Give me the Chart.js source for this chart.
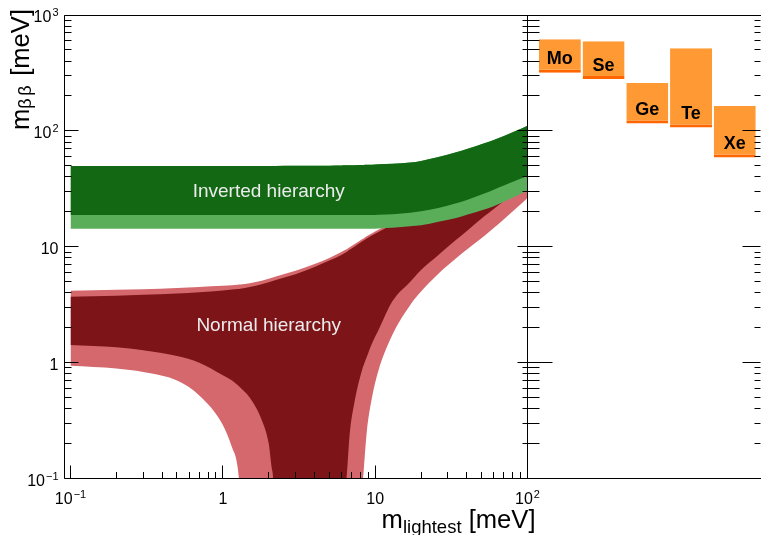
<!DOCTYPE html>
<html>
<head>
<meta charset="utf-8">
<script src="https://cdn.jsdelivr.net/npm/chart.js@4.4.1/dist/chart.umd.min.js"></script>
<style>
  html, body { margin: 0; padding: 0; background: #fff; }
  #wrap { position: relative; width: 761px; height: 535px; }
  canvas { position: absolute; left: 0; top: 0; }
</style>
</head>
<body>
<div id="wrap">
  <canvas id="bands" width="761" height="535"></canvas>
  <canvas id="limits" width="761" height="535"></canvas>
</div>
<script>
// lightest neutrino mass (meV), shared x for every band edge
const mLightest = [0.1, 0.2, 0.3, 0.5, 0.7, 1.0, 1.15, 1.25, 1.3, 1.5, 1.8, 2.0, 2.1, 2.15, 2.2,
  3, 4, 5, 6, 6.4, 6.5, 6.8, 7.3, 8.3, 8.4, 8.8, 9.5, 10.5, 13, 17, 20, 26, 34, 40, 52, 60, 70, 85, 100];

// normal hierarchy edges (meV); 0.001 = band reaches zero, below the plot
const nhLightHi = [4.18, 4.25, 4.3, 4.4, 4.5, 4.6, 4.65, 4.7, 4.72, 4.85, 5.1, 5.3, 5.4, 5.45, 5.5,
  6.2, 7.1, 8.0, 9.0, 9.4, 9.5, 9.9, 10.5, 11.7, 11.8, 12.3, 13.0, 14.0, 16.3, 20, 23, 29, 37, 43, 55, 63, 73, 88, 103];
const nhDarkHi = [3.7, 3.78, 3.85, 3.95, 4.05, 4.2, 4.27, 4.32, 4.35, 4.5, 4.75, 4.95, 5.05, 5.1, 5.15,
  5.8, 6.7, 7.6, 8.5, 8.9, 9.0, 9.4, 10.0, 11.2, 11.3, 11.8, 12.5, 13.4, 15.6, 19.2, 22, 28, 36, 42, 54, 62, 72, 86, 101];
const nhDarkLo = [1.42, 1.36, 1.28, 1.14, 1.0, 0.78, 0.70, 0.64, 0.61, 0.5, 0.32, 0.2, 0.12, 0.075, 0.001,
  0.001, 0.001, 0.001, 0.001, 0.085, 0.105, 0.24, 0.45, 0.91, 0.95, 1.12, 1.45, 1.9, 3.4, 5.0, 6.3, 8.5, 11.5, 13.7, 18.3, 21.2, 24.8, 30.5, 36];
const nhLightLo = [0.94, 0.89, 0.83, 0.70, 0.52, 0.29, 0.185, 0.125, 0.07, 0.001, 0.001, 0.001, 0.001, 0.001, 0.001,
  0.001, 0.001, 0.001, 0.001, 0.001, 0.001, 0.001, 0.001, 0.093, 0.115, 0.25, 0.49, 0.85, 1.75, 3.15, 4.1, 5.85, 7.95, 9.45, 12.4, 14.5, 17.3, 21.7, 26.4];

// inverted hierarchy edges (meV)
const ihTop = [49.8, 49.8, 49.8, 49.8, 49.8, 49.8, 49.8, 49.8, 49.8, 49.8, 49.8, 49.8, 49.8, 49.8, 49.8,
  49.9, 50, 50.1, 50.3, 50.4, 50.4, 50.5, 50.6, 50.8, 50.8, 50.9, 51.1, 51.4, 52, 53.3, 55, 59.5, 65.5, 69.9, 78.3, 83.6, 90.3, 100.5, 110.8];
const ihDarkLo = [18.8, 18.8, 18.8, 18.8, 18.8, 18.8, 18.8, 18.8, 18.8, 18.8, 18.8, 18.8, 18.8, 18.8, 18.8,
  18.8, 18.8, 18.8, 18.8, 18.8, 18.8, 18.8, 18.8, 18.8, 18.8, 18.8, 18.8, 18.9, 19.1, 19.7, 20.2, 21.6, 23.7, 25.3, 28.8, 31.1, 33.8, 37.5, 40.8];
const ihLightLo = [14.3, 14.3, 14.3, 14.3, 14.3, 14.3, 14.3, 14.3, 14.3, 14.3, 14.3, 14.3, 14.3, 14.3, 14.3,
  14.3, 14.3, 14.3, 14.3, 14.3, 14.3, 14.3, 14.3, 14.3, 14.3, 14.3, 14.3, 14.4, 14.6, 15.0, 15.3, 16.4, 17.7, 18.9, 21.0, 22.4, 24.5, 27.5, 30.8];

// experimental limits per isotope (meV)
const isotopes = ["Mo", "Se", "Ge", "Te", "Xe"];
const limitLow = [318, 280, 116, 107, 59];
const limitHigh = [617, 593, 259, 516, 164];

const xTickValues = [0.1, 1, 10, 100];
const xTickLabels = ["10^-1", "1", "10", "10^2"];
const yTickValues = [0.1, 1, 10, 100, 1000];
const yTickLabels = ["10^-1", "1", "10", "10^2", "10^3"];

const bandNames = ["Inverted hierarchy", "Normal hierarchy"];
const bandNameX = [2, 2];
const bandNameY = [27, 1.87];

const FONT = '"Liberation Sans", Arial, Helvetica, sans-serif';
const darkRed = "#7c1418", lightRed = "#d4686c";
const darkGreen = "#136813", lightGreen = "#5aae5a";

function points(vals) {
  return mLightest.map((m, i) => ({ x: m, y: vals[i] }));
}
function band(vals, color, order) {
  return { data: points(vals), fill: "+1", backgroundColor: color, borderColor: "transparent",
    borderWidth: 0, pointRadius: 0, pointHoverRadius: 0, clip: 0, order: order,
    cubicInterpolationMode: "monotone" };
}
function edge(vals, order) {
  return { data: points(vals), fill: false, borderColor: "transparent",
    borderWidth: 0, pointRadius: 0, pointHoverRadius: 0, clip: 0, order: order,
    cubicInterpolationMode: "monotone" };
}

function minorValues(lo, hi) {
  const out = [];
  for (let d = lo; d < hi * 0.999; d *= 10) {
    for (let k = 2; k <= 9; k++) out.push(k * d);
  }
  return out;
}

function parseTick(s) {
  const p = s.split("^");
  return { base: p[0], exp: p.length > 1 ? p[1].replace("-", "\u2212") : "" };
}
function tickWidth(ctx, t) {
  ctx.font = "16px " + FONT;
  let w = ctx.measureText(t.base).width;
  if (t.exp) {
    ctx.font = "11px " + FONT;
    w += ctx.measureText(t.exp).width + 1;
  }
  return w;
}
function drawTick(ctx, t, x, y) {
  ctx.textAlign = "left";
  ctx.textBaseline = "alphabetic";
  ctx.font = "16px " + FONT;
  ctx.fillText(t.base, x, y);
  if (t.exp) {
    const w = ctx.measureText(t.base).width;
    ctx.font = "11px " + FONT;
    ctx.fillText(t.exp, x + w + 1, y - 6);
  }
}

// title pieces: [text, font size, baseline shift, extra gap after]
function drawPieces(ctx, pieces) {
  let x = 0;
  pieces.forEach(([txt, size, shift, gap]) => {
    ctx.font = size + "px " + FONT;
    ctx.fillText(txt, x, shift);
    x += ctx.measureText(txt).width + (gap || 0);
  });
}
function piecesWidth(ctx, pieces) {
  let w = 0;
  pieces.forEach(([txt, size, shift, gap]) => {
    ctx.font = size + "px " + FONT;
    w += ctx.measureText(txt).width + (gap || 0);
  });
  return w;
}

const leftFrame = {
  id: "leftFrame",
  afterDraw(chart) {
    const { ctx, chartArea: a, scales: { x, y } } = chart;
    const L = Math.floor(a.left) + 0.5, R = Math.floor(a.right) + 0.5;
    const T = Math.floor(a.top) + 0.5, B = Math.floor(a.bottom) + 0.5;
    ctx.save();
    ctx.strokeStyle = "#000";
    ctx.lineWidth = 1;
    ctx.beginPath();
    ctx.moveTo(L, B); ctx.lineTo(L, T); ctx.lineTo(R, T);
    ctx.moveTo(L, B); ctx.lineTo(R, B);
    yTickValues.forEach(v => {
      const py = Math.floor(y.getPixelForValue(v)) + 0.5;
      ctx.moveTo(L, py); ctx.lineTo(L + 14, py);
      ctx.moveTo(R, py); ctx.lineTo(R - 10, py);
    });
    minorValues(0.1, 1000).forEach(v => {
      const py = Math.floor(y.getPixelForValue(v)) + 0.5;
      ctx.moveTo(L, py); ctx.lineTo(L + 7, py);
      ctx.moveTo(R, py); ctx.lineTo(R - 5, py);
    });
    xTickValues.forEach(v => {
      const px = Math.floor(x.getPixelForValue(v)) + 0.5;
      ctx.moveTo(px, B); ctx.lineTo(px, B - 13);
    });
    minorValues(0.1, 100).forEach(v => {
      const px = Math.floor(x.getPixelForValue(v)) + 0.5;
      ctx.moveTo(px, B); ctx.lineTo(px, B - 6.5);
    });
    ctx.stroke();

    // tick labels
    ctx.fillStyle = "#000";
    xTickValues.forEach((v, i) => {
      const t = parseTick(xTickLabels[i]);
      const w = tickWidth(ctx, t);
      drawTick(ctx, t, x.getPixelForValue(v) - w / 2, a.bottom + 25);
    });
    yTickValues.forEach((v, i) => {
      const t = parseTick(yTickLabels[i]);
      const w = tickWidth(ctx, t);
      drawTick(ctx, t, a.left - 5.5 - w, y.getPixelForValue(v) + 7);
    });

    // axis titles
    ctx.textAlign = "left";
    ctx.textBaseline = "alphabetic";
    const xTitle = [["m", 25.6, 0], ["lightest", 18.5, 5], [" [meV]", 25.6, 0]];
    ctx.save();
    ctx.translate(535.5 - piecesWidth(ctx, xTitle), 527.5);
    drawPieces(ctx, xTitle);
    ctx.restore();
    const yTitle = [["m", 25.6, 0], ["\u03b2", 18, 2, 2.5], ["\u03b2", 18, 2, 2.5], [" [meV]", 25.6, 0]];
    ctx.save();
    ctx.translate(28.5, 9 + piecesWidth(ctx, yTitle));
    ctx.rotate(-Math.PI / 2);
    drawPieces(ctx, yTitle);
    ctx.restore();

    // band names
    ctx.fillStyle = "#ececec";
    ctx.font = "19px " + FONT;
    ctx.textAlign = "center";
    bandNames.forEach((name, i) => {
      ctx.fillText(name, x.getPixelForValue(bandNameX[i]), y.getPixelForValue(bandNameY[i]));
    });
    ctx.restore();
  }
};

new Chart(document.getElementById("bands"), {
  type: "line",
  data: {
    datasets: [
      band(nhLightHi, lightRed, 40), edge(nhLightLo, 41),
      band(nhDarkHi, darkRed, 30), edge(nhDarkLo, 31),
      band(ihTop, lightGreen, 20), edge(ihLightLo, 21),
      band(ihTop, darkGreen, 10), edge(ihDarkLo, 11),
    ],
  },
  options: {
    responsive: false,
    animation: false,
    events: [],
    layout: { padding: { left: 64, right: 233.5, top: 15, bottom: 56.5 } },
    plugins: { legend: { display: false }, tooltip: { enabled: false } },
    scales: {
      x: { type: "logarithmic", min: 0.0906, max: 100, display: false },
      y: { type: "logarithmic", min: 0.1, max: 1000, display: false },
    },
  },
  plugins: [leftFrame],
});

const rightFrame = {
  id: "rightFrame",
  afterDraw(chart) {
    const { ctx, chartArea: a, scales: { x, y } } = chart;
    const L = Math.floor(a.left) + 0.5, R = a.right - 0.5;
    const T = Math.floor(a.top) + 0.5, B = Math.floor(a.bottom) + 0.5;
    ctx.save();
    ctx.strokeStyle = "#000";
    ctx.lineWidth = 1;
    ctx.beginPath();
    ctx.moveTo(L, B); ctx.lineTo(L, T); ctx.lineTo(a.right, T);
    ctx.moveTo(L, B); ctx.lineTo(a.right, B);
    yTickValues.forEach(v => {
      const py = Math.floor(y.getPixelForValue(v)) + 0.5;
      ctx.moveTo(L, py); ctx.lineTo(L + 25, py);
      ctx.moveTo(R, py); ctx.lineTo(R - 18, py);
    });
    minorValues(0.1, 1000).forEach(v => {
      const py = Math.floor(y.getPixelForValue(v)) + 0.5;
      ctx.moveTo(L, py); ctx.lineTo(L + 12, py);
      ctx.moveTo(R, py); ctx.lineTo(R - 6, py);
    });
    ctx.stroke();

    // isotope names near the bottom of each bar
    ctx.fillStyle = "#000";
    ctx.font = "bold 18px " + FONT;
    ctx.textAlign = "center";
    ctx.textBaseline = "alphabetic";
    isotopes.forEach((name, i) => {
      ctx.fillText(name, x.getPixelForValue(i), y.getPixelForValue(limitLow[i]) - 8.5);
    });
    ctx.restore();
  }
};

new Chart(document.getElementById("limits"), {
  type: "bar",
  data: {
    datasets: [{
      data: isotopes.map((n, i) => ({ x: i, y: [limitLow[i], limitHigh[i]] })),
      backgroundColor: "#ff9933",
      borderColor: "#ff6600",
      borderWidth: { top: 0, right: 0, bottom: 3, left: 0 },
      borderSkipped: false,
      inflateAmount: 0,
      barPercentage: 0.96,
      categoryPercentage: 1,
    }],
  },
  options: {
    responsive: false,
    animation: false,
    events: [],
    layout: { padding: { left: 527.5, right: 0, top: 15, bottom: 56.5 } },
    plugins: { legend: { display: false }, tooltip: { enabled: false } },
    scales: {
      x: { type: "linear", min: -0.74, max: 4.6, offset: false, display: false },
      y: { type: "logarithmic", min: 0.1, max: 1000, display: false },
    },
  },
  plugins: [rightFrame],
});
</script>
</body>
</html>
